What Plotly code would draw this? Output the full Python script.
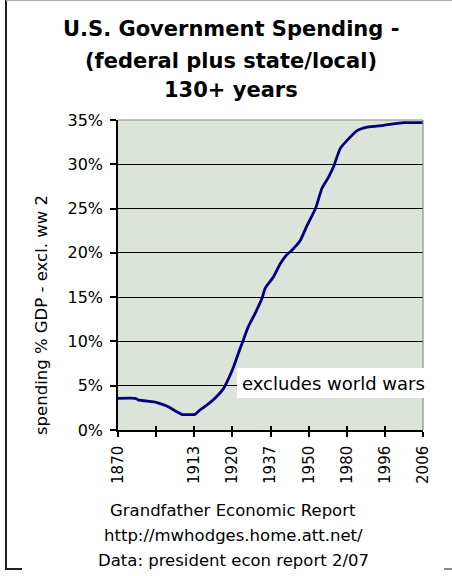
import plotly.graph_objects as go

# ---- data ----
tick_pos = [0, 1, 2, 3, 4, 5, 6, 7, 8]
tick_labels = ["1870", "", "1913", "1920", "1937", "1950", "1980", "1996", "2006"]
y_ticks = [0, 5, 10, 15, 20, 25, 30, 35]
y_tick_labels = ["0%", "5%", "10%", "15%", "20%", "25%", "30%", "35%"]

curve_pos = [0.0, 0.45, 0.53, 1.02, 1.28, 1.54, 1.67, 2.02, 2.15, 2.33, 2.55, 2.77,
             2.90, 3.03, 3.16, 3.29, 3.42, 3.60, 3.78, 3.86, 4.08, 4.26, 4.43, 4.56,
             4.78, 4.96, 5.18, 5.35, 5.53, 5.66, 5.83, 6.01, 6.27, 6.54, 6.97, 7.50, 8.0]
spending_pct = [3.58, 3.58, 3.4, 3.1, 2.7, 2.07, 1.77, 1.77, 2.26, 2.8, 3.6, 4.7,
                5.8, 7.1, 8.7, 10.2, 11.7, 13.2, 14.9, 16.0, 17.3, 18.8, 19.8, 20.3,
                21.4, 23.1, 25.0, 27.3, 28.6, 29.8, 31.8, 32.7, 33.8, 34.2, 34.4, 34.7, 34.7]

title_lines = ["U.S. Government Spending -", "(federal plus state/local)", "130+ years"]
y_title = "spending % GDP - excl. ww 2"
note_text = "excludes world wars"
footer_lines = ["Grandfather Economic Report", "http://mwhodges.home.att.net/",
                "Data: president econ report 2/07"]

# ---- layout geometry ----
W, H = 452, 576
L, R, T, B = 118, 29, 120, 146
pw, ph = W - L - R, H - T - B


def px(x):
    return (x - L) / pw


def py(y):
    return (H - B - y) / ph


FONT = "DejaVu Sans"

fig = go.Figure()
fig.add_trace(go.Scatter(
    x=curve_pos, y=spending_pct, mode="lines",
    line=dict(color="#000080", width=2.8, shape="spline", smoothing=0.5),
    hoverinfo="skip", showlegend=False))
# invisible trace for inner tick overlay axis
fig.add_trace(go.Scatter(x=[tick_pos[0]], y=[0], xaxis="x2", mode="markers",
                         marker=dict(opacity=0), hoverinfo="skip", showlegend=False))

shapes = [
    dict(type="line", xref="paper", yref="paper", x0=0, x1=1, y0=1, y1=1,
         line=dict(color="#8c8c8c", width=1.2), layer="above"),
    dict(type="line", xref="paper", yref="paper", x0=1, x1=1, y0=0, y1=1,
         line=dict(color="#8c8c8c", width=1.2), layer="above"),
    dict(type="rect", xref="paper", yref="paper", x0=px(237), x1=px(428),
         y0=py(398), y1=py(368), fillcolor="white", line=dict(width=0), layer="above"),
    dict(type="line", xref="paper", yref="paper", x0=px(6), x1=px(6), y0=py(0), y1=py(569),
         line=dict(color="#222", width=2)),
    dict(type="line", xref="paper", yref="paper", x0=px(6), x1=px(452), y0=py(0.5), y1=py(0.5),
         line=dict(color="#aaaaaa", width=1)),
    dict(type="line", xref="paper", yref="paper", x0=px(5), x1=px(22), y0=py(569), y1=py(569),
         line=dict(color="#222", width=2)),
    dict(type="line", xref="paper", yref="paper", x0=px(444), x1=px(452), y0=py(569), y1=py(569),
         line=dict(color="#666", width=1.5)),
]

annotations = []
title_y = [28.7, 61, 89.5]
for txt, yy in zip(title_lines, title_y):
    annotations.append(dict(text="<b>" + txt + "</b>", xref="paper", yref="paper",
                            x=px(231), y=py(yy), xanchor="center", yanchor="middle",
                            showarrow=False, font=dict(family=FONT, size=21, color="#000")))
annotations.append(dict(text=note_text, xref="paper", yref="paper", x=px(240), y=py(383),
                        xanchor="left", yanchor="middle", showarrow=False,
                        font=dict(family=FONT, size=18, color="#000")))
footer_y = [510, 535, 560]
for txt, yy in zip(footer_lines, footer_y):
    annotations.append(dict(text=txt, xref="paper", yref="paper", x=px(233), y=py(yy),
                            xanchor="center", yanchor="middle", showarrow=False,
                            font=dict(family=FONT, size=16.5, color="#000")))
annotations.append(dict(text=y_title, xref="paper", yref="paper", x=px(41), y=py(315),
                        xanchor="center", yanchor="middle", textangle=-90, showarrow=False,
                        font=dict(family=FONT, size=16.5, color="#000")))

fig.update_layout(
    width=W, height=H,
    margin=dict(l=L, r=R, t=T, b=B),
    paper_bgcolor="white",
    plot_bgcolor="#DCE4DA",
    showlegend=False,
    xaxis=dict(range=[0, 8], tickmode="array", tickvals=tick_pos, ticktext=tick_labels,
               tickangle=-90, ticks="outside", ticklen=5, tickwidth=1.5, tickcolor="#000",
               showline=True, linecolor="#000", linewidth=1.5, showgrid=False,
               zeroline=False, tickfont=dict(family=FONT, size=15, color="#000"),
               ticklabelstandoff=3, fixedrange=True),
    xaxis2=dict(range=[0, 8], overlaying="x", side="bottom", anchor="y",
                tickmode="array", tickvals=tick_pos, ticktext=["" for _ in tick_pos],
                ticks="inside", ticklen=4, tickwidth=1.5, tickcolor="#000",
                showline=False, showgrid=False, zeroline=False, showticklabels=False),
    yaxis=dict(range=[0, 35], tickmode="array", tickvals=y_ticks, ticktext=y_tick_labels,
               ticks="outside", ticklen=6, tickwidth=1.5, tickcolor="#000",
               showline=True, linecolor="#000", linewidth=1.5,
               showgrid=True, gridcolor="#000", gridwidth=1, zeroline=False,
               tickfont=dict(family=FONT, size=16, color="#000"),
               ticklabelstandoff=4, fixedrange=True),
    shapes=shapes,
    annotations=annotations,
)

fig.write_html("out.html", config={"displayModeBar": False},
               post_script="document.body.style.margin='0';document.body.style.overflow='hidden';")
